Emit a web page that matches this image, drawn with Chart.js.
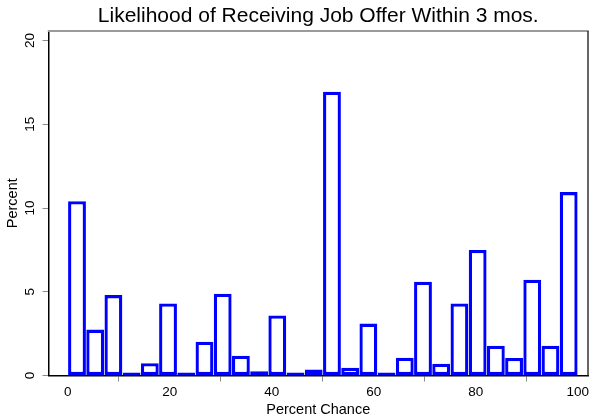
<!DOCTYPE html>
<html>
<head>
<meta charset="utf-8">
<script src="https://cdn.jsdelivr.net/npm/chart.js@4.4.1/dist/chart.umd.min.js"></script>
<style>
  html, body { margin: 0; padding: 0; background: #ffffff; }
  #wrap { width: 594px; height: 417px; }
</style>
</head>
<body>
<div id="wrap"><canvas id="hist" width="594" height="417"></canvas></div>
<script>
// Histogram bins (midpoints of 28 equal-width bins spanning 0–100)
const binMidpoints = [
  1.79, 5.36, 8.93, 12.50, 16.07, 19.64, 23.21, 26.79, 30.36, 33.93,
  37.50, 41.07, 44.64, 48.21, 51.79, 55.36, 58.93, 62.50, 66.07, 69.64,
  73.21, 76.79, 80.36, 83.93, 87.50, 91.07, 94.64, 98.21
];

// Percent of respondents falling in each bin
const percentValues = [
  10.4, 2.74, 4.8, 0, 0.73, 4.3, 0.12, 2.02, 4.88, 1.18,
  0.25, 3.58, 0.12, 0.36, 16.95, 0.46, 3.1, 0.12, 1.06, 5.6,
  0.7, 4.3, 7.5, 1.78, 1.05, 5.72, 1.78, 10.95
];

const xTickValues = [0, 20, 40, 60, 80, 100];
const yTickValues = [0, 5, 10, 15, 20];

const titleText = 'Likelihood of Receiving Job Offer Within 3 mos.';
const xAxisTitle = 'Percent Chance';
const yAxisTitle = 'Percent';

const FONT = "'Liberation Sans', Arial, Helvetica, sans-serif";

// Top and right edges of the plot region frame
const frameEdges = {
  id: 'frameEdges',
  afterDraw(chart) {
    const { ctx, chartArea: a } = chart;
    ctx.save();
    ctx.lineCap = 'butt';
    ctx.strokeStyle = '#9a9a9a';
    ctx.lineWidth = 2;
    ctx.beginPath();
    ctx.moveTo(a.left - 0.75, a.top);
    ctx.lineTo(a.right + 0.75, a.top);
    ctx.stroke();
    ctx.strokeStyle = '#333333';
    ctx.lineWidth = 1.5;
    ctx.beginPath();
    ctx.moveTo(a.right, a.top);
    ctx.lineTo(a.right, a.bottom);
    ctx.stroke();
    ctx.restore();
  }
};

new Chart(document.getElementById('hist'), {
  type: 'bar',
  data: {
    datasets: [{
      data: binMidpoints.map((x, i) => ({ x: x, y: percentValues[i] })),
      backgroundColor: '#ffffff',
      borderColor: '#0000ff',
      borderWidth: 3.3,
      borderSkipped: false,
      minBarLength: 3,
      barPercentage: 0.98,
      categoryPercentage: 1.0
    }]
  },
  options: {
    responsive: false,
    animation: false,
    devicePixelRatio: 1,
    layout: { padding: { left: 0, right: 6, top: 0, bottom: 0 } },
    plugins: {
      legend: { display: false },
      tooltip: { enabled: false },
      title: {
        display: true,
        text: titleText,
        fullSize: false,
        color: '#000000',
        font: { family: FONT, size: 21, weight: 'normal', lineHeight: 1.2 },
        padding: { top: 4, bottom: 1.8 }
      }
    },
    scales: {
      x: {
        type: 'linear',
        min: -3.8,
        max: 102,
        offset: false,
        afterBuildTicks(scale) { scale.ticks = xTickValues.map(v => ({ value: v })); },
        afterFit(scale) { scale.height = 41.5; },
        ticks: {
          color: '#000000',
          font: { family: FONT, size: 13.5 },
          padding: 3,
          maxRotation: 0,
          autoSkip: false
        },
        grid: {
          display: true,
          drawOnChartArea: false,
          drawTicks: true,
          tickLength: 6,
          tickColor: '#8c8c8c',
          tickWidth: 1
        },
        border: { display: true, color: '#000000', width: 1.5 },
        title: {
          display: true,
          text: xAxisTitle,
          color: '#000000',
          font: { family: FONT, size: 14.5, lineHeight: 1 },
          padding: { top: 0, bottom: 0 }
        }
      },
      y: {
        type: 'linear',
        min: 0,
        max: 20.57,
        afterBuildTicks(scale) { scale.ticks = yTickValues.map(v => ({ value: v })); },
        afterFit(scale) { scale.width = 48.5; },
        ticks: {
          color: '#000000',
          font: { family: FONT, size: 13.5 },
          padding: 4.5,
          minRotation: 90,
          maxRotation: 90,
          crossAlign: 'center',
          autoSkip: false
        },
        grid: {
          display: true,
          drawOnChartArea: false,
          drawTicks: true,
          tickLength: 6,
          tickColor: '#8c8c8c',
          tickWidth: 1
        },
        border: { display: true, color: '#000000', width: 1.5 },
        title: {
          display: true,
          text: yAxisTitle,
          color: '#000000',
          font: { family: FONT, size: 14.5, lineHeight: 1 },
          padding: { top: 6, bottom: 0 }
        }
      }
    }
  },
  plugins: [frameEdges]
});
</script>
</body>
</html>
